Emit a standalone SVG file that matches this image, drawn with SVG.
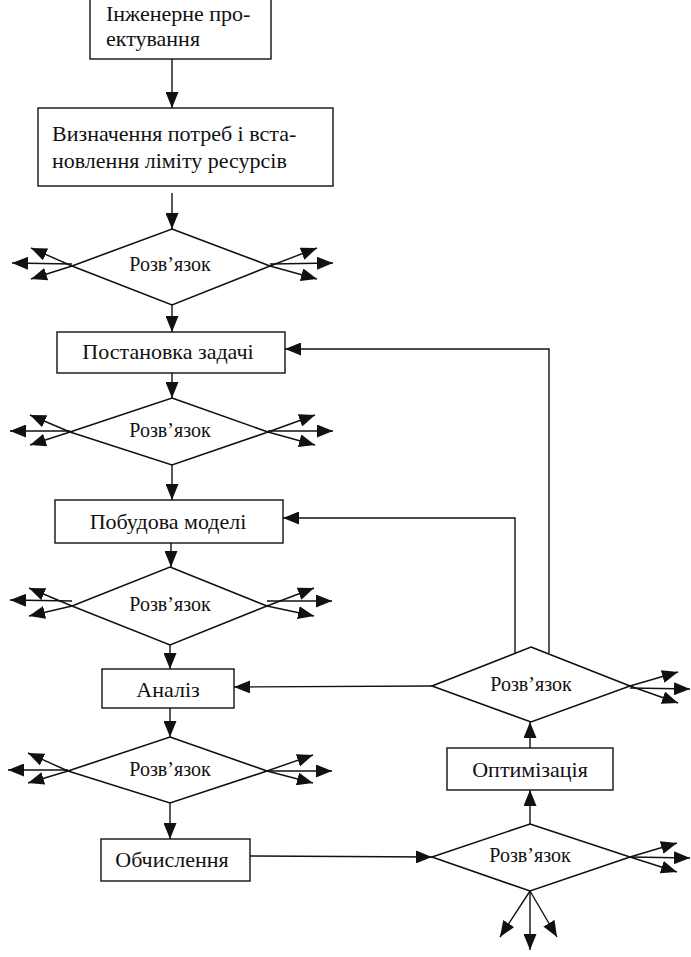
<svg xmlns="http://www.w3.org/2000/svg" width="691" height="957" viewBox="0 0 691 957">
<style>
  .box { fill: #fff; stroke: #111; stroke-width: 1.4; }
  .dia { fill: #fff; stroke: #111; stroke-width: 1.6; }
  .bt { font-family: "Liberation Serif", "Times New Roman", serif; font-size: 22px; fill: #111; }
  .dt { font-family: "Liberation Serif", "Times New Roman", serif; font-size: 20px; fill: #111; text-anchor: middle; }
  .c { text-anchor: middle; }
  .ar { fill: none; stroke: #111; stroke-width: 1.4; marker-end: url(#ah); }
</style>
<defs>
  <marker id="ah" viewBox="0 0 16 13" refX="16" refY="6.5" markerWidth="16" markerHeight="13" markerUnits="userSpaceOnUse" orient="auto">
    <path d="M0,0 L16,6.5 L0,13 z" fill="#111"/>
  </marker>
</defs>
<rect width="691" height="957" fill="#fff"/>

<g id="connectors">
  <line class="ar" x1="172" y1="59" x2="172" y2="108"/>
  <line class="ar" x1="172" y1="193" x2="172" y2="229"/>
  <line class="ar" x1="172" y1="305" x2="172" y2="332"/>
  <line class="ar" x1="172" y1="373" x2="172" y2="398"/>
  <line class="ar" x1="172" y1="465" x2="172" y2="500"/>
  <line class="ar" x1="171" y1="543" x2="171" y2="567"/>
  <line class="ar" x1="170" y1="645" x2="170" y2="669"/>
  <line class="ar" x1="170" y1="708" x2="170" y2="737"/>
  <line class="ar" x1="170" y1="803" x2="170" y2="839"/>
  <line class="ar" x1="250" y1="856" x2="432" y2="857"/>
  <line class="ar" x1="530" y1="824" x2="530" y2="790"/>
  <line class="ar" x1="530" y1="748" x2="530" y2="722"/>
  <line class="ar" x1="432" y1="686" x2="234" y2="687"/>
  <polyline class="ar" points="515,653 515,518 283,518"/>
  <polyline class="ar" points="549,653 549,349 285,349"/>

  <!-- side arrows D1 -->
  <line class="ar" x1="72" y1="266" x2="31" y2="248"/>
  <line class="ar" x1="72" y1="264" x2="12" y2="263"/>
  <line class="ar" x1="72" y1="266" x2="31" y2="279"/>
  <line class="ar" x1="270" y1="266" x2="317" y2="248"/>
  <line class="ar" x1="270" y1="264" x2="333" y2="263"/>
  <line class="ar" x1="270" y1="266" x2="317" y2="279"/>
  <!-- D2 -->
  <line class="ar" x1="70" y1="432" x2="30" y2="415"/>
  <line class="ar" x1="70" y1="431" x2="10" y2="431"/>
  <line class="ar" x1="70" y1="432" x2="30" y2="445"/>
  <line class="ar" x1="268" y1="432" x2="315" y2="415"/>
  <line class="ar" x1="268" y1="431" x2="333" y2="431"/>
  <line class="ar" x1="268" y1="432" x2="315" y2="445"/>
  <!-- D3 -->
  <line class="ar" x1="72" y1="606" x2="29" y2="588"/>
  <line class="ar" x1="72" y1="601" x2="10" y2="600"/>
  <line class="ar" x1="72" y1="606" x2="29" y2="616"/>
  <line class="ar" x1="267" y1="606" x2="314" y2="588"/>
  <line class="ar" x1="267" y1="601" x2="332" y2="601"/>
  <line class="ar" x1="267" y1="606" x2="314" y2="616"/>
  <!-- D4 -->
  <line class="ar" x1="68" y1="771" x2="28" y2="753"/>
  <line class="ar" x1="68" y1="770" x2="8" y2="770"/>
  <line class="ar" x1="68" y1="771" x2="28" y2="783"/>
  <line class="ar" x1="267" y1="771" x2="313" y2="755"/>
  <line class="ar" x1="267" y1="771" x2="332" y2="771"/>
  <line class="ar" x1="267" y1="771" x2="313" y2="783"/>
  <!-- D6 -->
  <line class="ar" x1="630" y1="686" x2="678" y2="672"/>
  <line class="ar" x1="630" y1="688" x2="690" y2="689"/>
  <line class="ar" x1="630" y1="686" x2="678" y2="703"/>
  <!-- D5 -->
  <line class="ar" x1="630" y1="857" x2="677" y2="843"/>
  <line class="ar" x1="630" y1="857" x2="690" y2="858"/>
  <line class="ar" x1="630" y1="857" x2="677" y2="872"/>
  <line class="ar" x1="530" y1="891" x2="500" y2="937"/>
  <line class="ar" x1="530" y1="891" x2="530" y2="950"/>
  <line class="ar" x1="530" y1="891" x2="557" y2="937"/>
</g>

<g id="n1">
  <rect class="box" x="90" y="-5" width="181" height="64"/>
  <text class="bt" x="106" y="21">Інженерне про-</text>
  <text class="bt" x="106" y="46">ектування</text>
</g>
<g id="n2">
  <rect class="box" x="38" y="108" width="295" height="78"/>
  <text class="bt" x="52" y="141">Визначення потреб і вста-</text>
  <text class="bt" x="52" y="168">новлення ліміту ресурсів</text>
</g>
<g id="d1">
  <polygon class="dia" points="172,229 270,266 172,305 72,266"/>
  <text class="dt" x="170" y="271">Розв’язок</text>
</g>
<g id="n3">
  <rect class="box" x="57" y="332" width="228" height="41"/>
  <text class="bt c" x="168" y="359">Постановка задачі</text>
</g>
<g id="d2">
  <polygon class="dia" points="172,398 268,432 172,465 70,432"/>
  <text class="dt" x="170" y="437">Розв’язок</text>
</g>
<g id="n4">
  <rect class="box" x="55" y="500" width="228" height="43"/>
  <text class="bt c" x="168" y="529">Побудова моделі</text>
</g>
<g id="d3">
  <polygon class="dia" points="170,567 267,606 170,645 72,606"/>
  <text class="dt" x="170" y="611">Розв’язок</text>
</g>
<g id="n5">
  <rect class="box" x="102" y="669" width="132" height="39"/>
  <text class="bt c" x="168" y="697">Аналіз</text>
</g>
<g id="d4">
  <polygon class="dia" points="170,737 267,771 170,803 68,771"/>
  <text class="dt" x="170" y="776">Розв’язок</text>
</g>
<g id="n6">
  <rect class="box" x="101" y="839" width="149" height="42"/>
  <text class="bt c" x="172" y="867">Обчислення</text>
</g>
<g id="d5">
  <polygon class="dia" points="530,824 630,857 530,891 432,857"/>
  <text class="dt" x="530" y="862">Розв’язок</text>
</g>
<g id="n7">
  <rect class="box" x="447" y="748" width="166" height="42"/>
  <text class="bt c" x="530" y="777">Оптимізація</text>
</g>
<g id="d6">
  <polygon class="dia" points="531,647 630,686 531,722 432,686"/>
  <text class="dt" x="531" y="691">Розв’язок</text>
</g>
</svg>
